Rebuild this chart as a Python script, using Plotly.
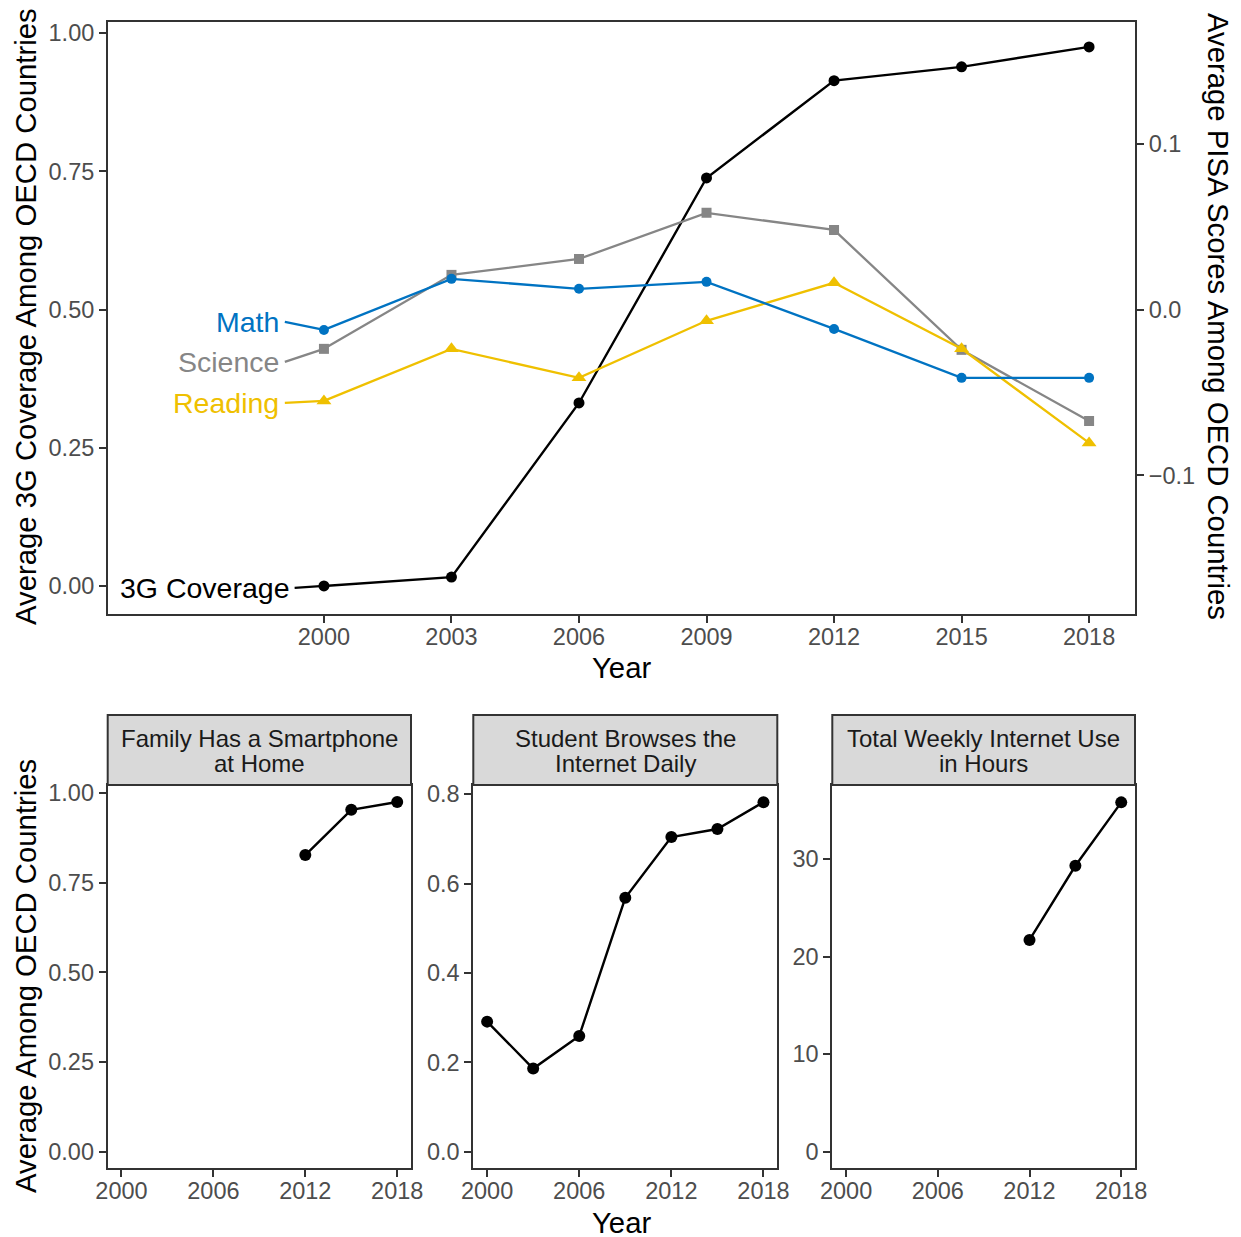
import plotly.graph_objects as go

W, H = 1241, 1237
PAGE_OFFSET = 8  # browser body margin

# ---------------- data ----------------
years = [2000, 2003, 2006, 2009, 2012, 2015, 2018]
coverage_3g = [0.000, 0.016, 0.331, 0.738, 0.914, 0.939, 0.975]
math = [-0.0123, 0.0185, 0.0125, 0.0167, -0.0117, -0.0412, -0.0412]
science = [-0.0237, 0.0209, 0.0305, 0.0583, 0.0480, -0.0243, -0.0672]
reading = [-0.0551, -0.0237, -0.0412, -0.0068, 0.0161, -0.0237, -0.0804]

smart_years = [2012, 2015, 2018]
smartphone = [0.827, 0.953, 0.975]
browse_years = [2000, 2003, 2006, 2009, 2012, 2015, 2018]
browse_daily = [0.291, 0.186, 0.259, 0.568, 0.704, 0.722, 0.782]
hours_years = [2012, 2015, 2018]
weekly_hours = [21.7, 29.3, 35.8]

facet_titles = [["Family Has a Smartphone", "at Home"],
                ["Student Browses the", "Internet Daily"],
                ["Total Weekly Internet Use", "in Hours"]]

BLUE = "#0073C2"
GRAY = "#868686"
YELLOW = "#EFC000"
FONT = "Liberation Sans"
TICKC = "#4D4D4D"
BORDER = "#333333"


def fx(p):
    return (p - PAGE_OFFSET) / W


def fy(p):
    return 1 - (p - PAGE_OFFSET) / H


fig = go.Figure()

# ---------------- top panel ----------------
fig.add_trace(go.Scatter(x=years, y=coverage_3g, mode="lines+markers",
                         line=dict(color="black", width=2.4),
                         marker=dict(color="black", size=11, symbol="circle"),
                         xaxis="x", yaxis="y", showlegend=False))
fig.add_trace(go.Scatter(x=years, y=science, mode="lines+markers",
                         line=dict(color=GRAY, width=2.3),
                         marker=dict(color=GRAY, size=10, symbol="square"),
                         xaxis="x", yaxis="y2", showlegend=False))
fig.add_trace(go.Scatter(x=years, y=reading, mode="lines+markers",
                         line=dict(color=YELLOW, width=2.3),
                         marker=dict(color=YELLOW, size=13, symbol="triangle-up"),
                         xaxis="x", yaxis="y2", showlegend=False))
fig.add_trace(go.Scatter(x=years, y=math, mode="lines+markers",
                         line=dict(color=BLUE, width=2.3),
                         marker=dict(color=BLUE, size=10, symbol="circle"),
                         xaxis="x", yaxis="y2", showlegend=False))

# direct labels (text position + connector to first point)
labels = [
    ("Math", BLUE, "y2", math[0], -0.0074, 1999.08, 1998.99),
    ("Science", GRAY, "y2", science[0], -0.0316, 1999.08, 1998.99),
    ("Reading", YELLOW, "y2", reading[0], -0.0563, 1999.08, 1998.99),
    ("3G Coverage", "black", "y", coverage_3g[0], -0.0036, 1999.31, 1999.25),
]
annotations = []
for txt, col, yax, yval, ylab, xseg, xtxt in labels:
    fig.add_trace(go.Scatter(x=[xseg, years[0]], y=[ylab, yval], mode="lines",
                             line=dict(color=col, width=2.3),
                             xaxis="x", yaxis=yax, showlegend=False,
                             hoverinfo="skip"))
    annotations.append(dict(text=txt, x=xtxt, y=ylab, xref="x", yref=yax,
                            xanchor="right", yanchor="middle", showarrow=False,
                            font=dict(family=FONT, size=28.5, color=col)))

# ---------------- bottom facets ----------------
bottom_series = [(smart_years, smartphone), (browse_years, browse_daily),
                 (hours_years, weekly_hours)]
for i, (xs, ys) in enumerate(bottom_series):
    fig.add_trace(go.Scatter(x=xs, y=ys, mode="lines+markers",
                             line=dict(color="black", width=2.4),
                             marker=dict(color="black", size=12),
                             xaxis=f"x{i + 2}", yaxis=f"y{i + 3}",
                             showlegend=False))

common = dict(showline=True, mirror=True, linecolor=BORDER, linewidth=2,
              ticks="outside", ticklen=7, tickwidth=2, tickcolor=BORDER,
              showgrid=False, zeroline=False, automargin=False,
              tickfont=dict(family=FONT, size=23.5, color=TICKC))
xcommon = dict(common, ticklabelstandoff=-6)

top_x = [108, 1135]
top_y = [21.5, 614]
left_range = [-0.0507, 1.021]
right_range = [(v - 0.5) / 3 for v in left_range]

layout = dict(
    template="none",
    width=W, height=H, margin=dict(l=0, r=0, t=0, b=0, autoexpand=False),
    paper_bgcolor="white", plot_bgcolor="white",
    xaxis=dict(domain=[fx(top_x[0]), fx(top_x[1])], range=[1994.92, 2019.08],
               tickvals=years, anchor="y", **xcommon),
    yaxis=dict(domain=[fy(top_y[1]), fy(top_y[0])], range=left_range,
               tickvals=[0, 0.25, 0.5, 0.75, 1.0], tickformat=".2f",
               anchor="x", **common),
    yaxis2=dict(overlaying="y", side="right", range=right_range,
                tickvals=[-0.1, 0.0, 0.1], tickformat=".1f", anchor="x",
                **{k: v for k, v in common.items() if k != "mirror"}),
)

panels_x = [[107.7, 411], [473.3, 777.3], [832.3, 1135]]
panel_y = [785, 1167.7]
bottom_ranges = [[-0.0446, 1.0223], [-0.0358, 0.8204], [-1.64, 37.58]]
bottom_ticks = [([0, 0.25, 0.5, 0.75, 1.0], ".2f"),
                ([0, 0.2, 0.4, 0.6, 0.8], ".1f"),
                ([0, 10, 20, 30], "d")]
shapes = []
for i in range(3):
    layout[f"xaxis{i + 2}"] = dict(domain=[fx(panels_x[i][0]), fx(panels_x[i][1])],
                                   range=[1999.1, 2018.9],
                                   tickvals=[2000, 2006, 2012, 2018],
                                   anchor=f"y{i + 3}", **xcommon)
    layout[f"yaxis{i + 3}"] = dict(domain=[fy(panel_y[1]), fy(panel_y[0])],
                                   range=bottom_ranges[i],
                                   tickvals=bottom_ticks[i][0],
                                   tickformat=bottom_ticks[i][1],
                                   anchor=f"x{i + 2}", **common)
    shapes.append(dict(type="rect", xref="paper", yref="paper",
                       x0=fx(panels_x[i][0]), x1=fx(panels_x[i][1]),
                       y0=fy(785), y1=fy(715),
                       fillcolor="#D9D9D9", line=dict(color=BORDER, width=2),
                       layer="above"))
    cx = fx((panels_x[i][0] + panels_x[i][1]) / 2)
    for j, line_txt in enumerate(facet_titles[i]):
        annotations.append(dict(text=line_txt, x=cx, y=fy(738 + 25 * j),
                                xref="paper", yref="paper",
                                xanchor="center", yanchor="middle",
                                showarrow=False,
                                font=dict(family=FONT, size=24, color="#1A1A1A")))

# axis titles
title_font = dict(family=FONT, size=29.3, color="black")
annotations += [
    dict(text="Average 3G Coverage Among OECD Countries", x=fx(25), y=fy(317),
         xref="paper", yref="paper", textangle=-90, showarrow=False,
         xanchor="center", yanchor="middle", font=title_font),
    dict(text="Average PISA Scores Among OECD Countries", x=fx(1218), y=fy(316),
         xref="paper", yref="paper", textangle=90, showarrow=False,
         xanchor="center", yanchor="middle", font=title_font),
    dict(text="Year", x=fx(621), y=fy(667), xref="paper", yref="paper",
         showarrow=False, xanchor="center", yanchor="middle", font=title_font),
    dict(text="Average Among OECD Countries", x=fx(25), y=fy(976),
         xref="paper", yref="paper", textangle=-90, showarrow=False,
         xanchor="center", yanchor="middle", font=title_font),
    dict(text="Year", x=fx(621), y=fy(1222), xref="paper", yref="paper",
         showarrow=False, xanchor="center", yanchor="middle", font=title_font),
]

layout["annotations"] = annotations
layout["shapes"] = shapes
fig.update_layout(**layout)
fig.write_html("out.html")
